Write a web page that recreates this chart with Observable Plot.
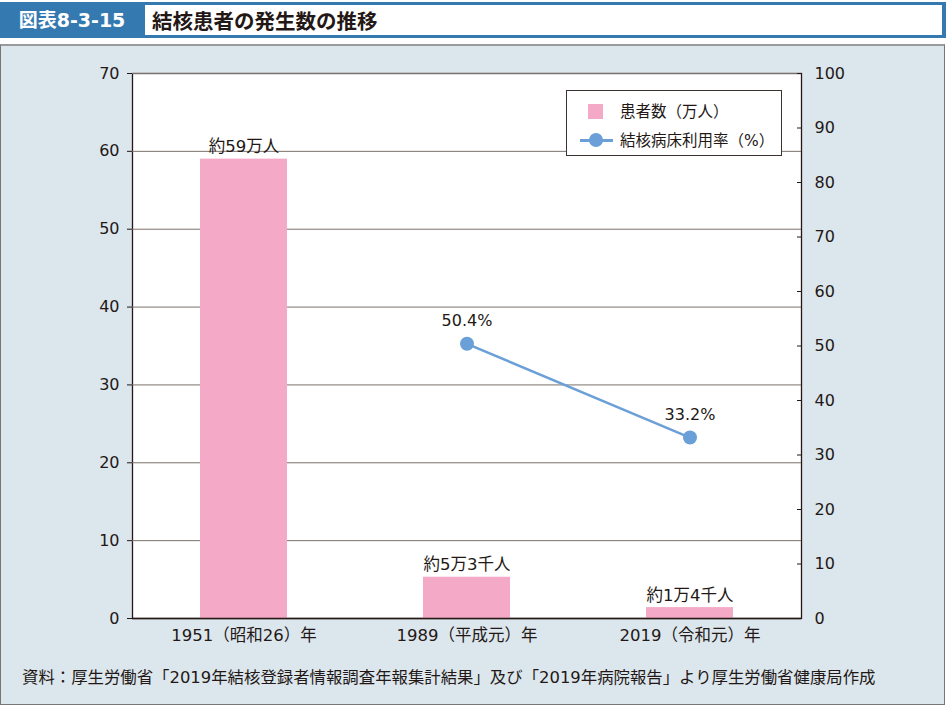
<!DOCTYPE html>
<html><head><meta charset="utf-8">
<script src="https://cdn.jsdelivr.net/npm/d3@7"></script>
<script src="https://cdn.jsdelivr.net/npm/@observablehq/plot@0.6"></script>
<style>
body{margin:0;width:946px;height:706px;background:#fff;font-family:"DejaVu Sans","Noto Sans CJK JP",sans-serif;position:relative;overflow:hidden;color:#231815}
#hdr{position:absolute;left:0;top:2px;width:946px;height:36px;background:#3479b0;}
#lab{position:absolute;left:0;top:0;width:144px;height:36px;color:#fff;font-weight:bold;font-size:19px;line-height:36px;text-align:center;font-family:"DejaVu Sans","Noto Sans CJK JP",sans-serif}
#ttl{position:absolute;left:145px;top:3px;right:4px;height:30px;background:#fff;font-weight:bold;font-size:20.5px;line-height:30px;padding-left:7px;color:#231815;font-family:"Noto Sans CJK JP",sans-serif}
#panel{position:absolute;left:0;top:44px;width:943px;height:658px;background:#dce6ed;border:1px solid #777;border-top:2px solid #9a9a9a}
#chart{position:absolute;left:0;top:46px}
#legend{position:absolute;left:566px;top:90px;width:216px;height:66px;background:#fff;border:1px solid #3a3330;box-sizing:border-box;font-size:15.5px}
.li{position:absolute;left:53px;white-space:nowrap}
#sw1{position:absolute;left:21px;top:13px;width:15px;height:15px;background:#f4a9c6}
#sw2l{position:absolute;left:13px;top:48px;width:33px;height:3px;background:#6b9fd8}
#sw2d{position:absolute;left:22px;top:42px;width:14px;height:14px;border-radius:50%;background:#6b9fd8}
#cap{position:absolute;left:22px;top:664px;font-size:16.4px;white-space:nowrap}
</style></head>
<body>
<div id="hdr"><div id="lab">図表8-3-15</div><div id="ttl">結核患者の発生数の推移</div></div>
<div id="panel"></div>
<div id="chart"></div>
<div id="legend">
  <div id="sw1"></div><div class="li" style="top:8px">患者数（万人）</div>
  <div id="sw2l"></div><div id="sw2d"></div><div class="li" style="top:37px">結核病床利用率（%）</div>
</div>
<div id="cap">資料：厚生労働省「2019年結核登録者情報調査年報集計結果」及び「2019年病院報告」より厚生労働省健康局作成</div>
<script>
const categories = ["1951（昭和26）年", "1989（平成元）年", "2019（令和元）年"];
const patients = [59, 5.3, 1.4];
const patientLabels = ["約59万人", "約5万3千人", "約1万4千人"];
const rateCategories = ["1989（平成元）年", "2019（令和元）年"];
const rates = [50.4, 33.2];
const rateLabels = ["50.4%", "33.2%"];
const leftTicks = [0, 10, 20, 30, 40, 50, 60, 70];
const rightTicks = [0, 10, 20, 30, 40, 50, 60, 70, 80, 90, 100];

const k = 70 / 100;
const barData = categories.map((c, i) => ({cat: c, value: patients[i], label: patientLabels[i]}));
const lineData = rateCategories.map((c, i) => ({cat: c, rate: rates[i] * k, label: rateLabels[i]}));
const ink = "#231815";

const chart = Plot.plot({
  width: 946, height: 604,
  marginTop: 27, marginBottom: 32, marginLeft: 132, marginRight: 145,
  style: {fontFamily: '"DejaVu Sans","Noto Sans CJK JP",sans-serif', fontSize: "16px", color: ink, background: "transparent", overflow: "visible"},
  x: {domain: categories, paddingInner: 0.61, paddingOuter: 0.305, label: null},
  y: {domain: [0, 70], label: null},
  marks: [
    Plot.frame({fill: "white", stroke: ink, strokeWidth: 1.3}),
    Plot.gridY(leftTicks.slice(1), {stroke: "#7a716b", strokeOpacity: 1, strokeWidth: 1}),
    Plot.barY(barData, {x: "cat", y: "value", fill: "#f4a9c6"}),
    Plot.text(barData, {x: "cat", y: "value", text: "label", lineAnchor: "bottom", dy: -7, fontSize: 16.5, fill: ink, letterSpacing: "0.5px"}),
    Plot.ruleY([0], {stroke: ink, strokeWidth: 1.5}),
    Plot.axisY(leftTicks, {anchor: "left", tickSize: 5, tickPadding: 8, label: null, fontSize: 16, stroke: ink}),
    Plot.axisY(rightTicks.map(v => v * k), {anchor: "right", tickSize: -5, tickPadding: 18, label: null, fontSize: 16, stroke: ink, tickFormat: d => Math.round(d / k)}),
    Plot.axisX({tickSize: 0, tickPadding: 11, label: null, fontSize: 16.5}),
    Plot.line(lineData, {x: "cat", y: "rate", stroke: "#6b9fd8", strokeWidth: 2.5}),
    Plot.dot(lineData, {x: "cat", y: "rate", r: 7, fill: "#6b9fd8", stroke: null}),
    Plot.text(lineData, {x: "cat", y: "rate", text: "label", dy: -23, fontSize: 16, fill: ink})
  ]
});
document.getElementById("chart").appendChild(chart);
</script>
</body></html>
